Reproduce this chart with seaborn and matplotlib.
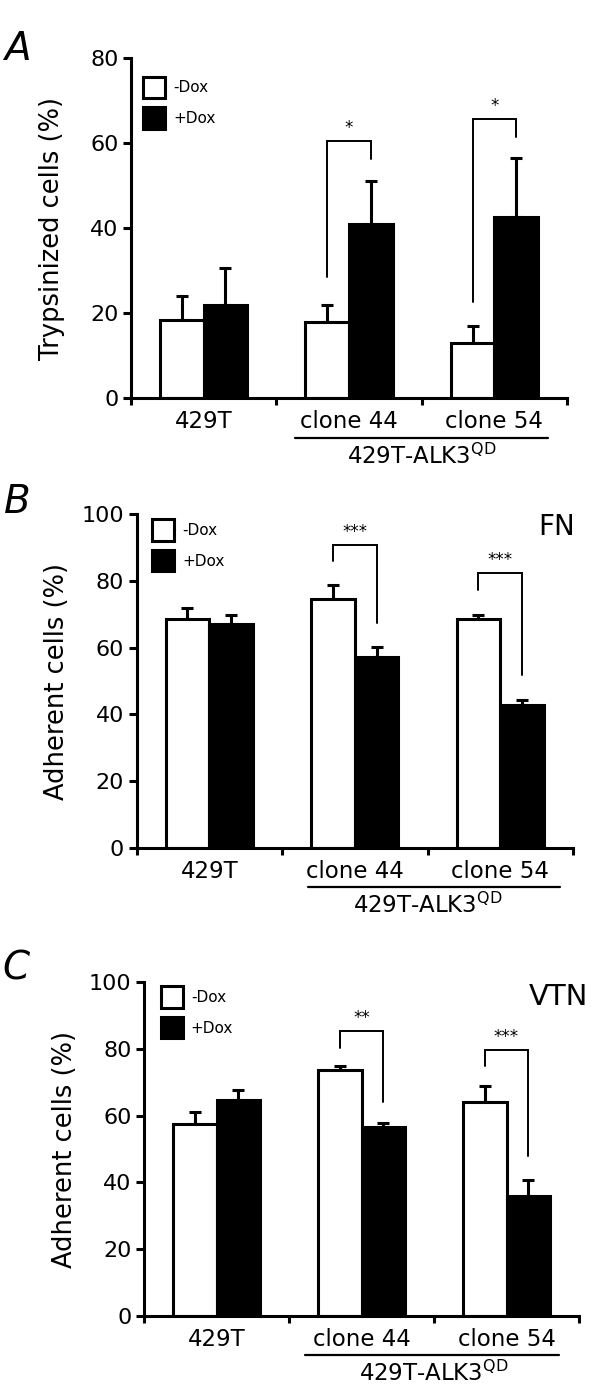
import numpy as np
import pandas as pd
import matplotlib
matplotlib.use("Agg")
import matplotlib.pyplot as plt
import matplotlib.transforms as mtrans
import seaborn as sns

# --- data ---
groups = ["429T", "clone 44", "clone 54"]
conditions = ["-Dox", "+Dox"]

# A: trypsinized cells
a_minus = [18.3, 17.9, 12.9]
a_plus = [22.0, 40.9, 42.6]
a_err_minus = [5.6, 3.9, 4.0]
a_err_plus = [8.6, 10.2, 13.9]

# B: adherent cells on FN
b_minus = [68.5, 74.7, 68.5]
b_plus = [67.0, 57.1, 42.8]
b_err_minus = [3.5, 3.9, 1.2]
b_err_plus = [2.7, 3.2, 1.5]

# C: adherent cells on VTN
c_minus = [57.5, 73.8, 64.0]
c_plus = [64.6, 56.6, 36.0]
c_err_minus = [3.5, 1.2, 4.8]
c_err_plus = [3.2, 1.1, 4.6]

# significance brackets: (group index, left end, top, right end, label)
a_sig = [(1, 28.5, 60.5, 56.3, "*"), (2, 22.7, 65.6, 61.4, "*")]
b_sig = [(1, 85.8, 90.8, 67.3, "***"), (2, 77.1, 82.4, 51.8, "***")]
c_sig = [(1, 80.1, 85.3, 64.2, "**"), (2, 74.9, 79.7, 48.0, "***")]

W, H = 600, 1388
LW = 2.2

sns.set_style("white")
plt.rcParams['font.family'] = ['DejaVu Sans']
plt.rcParams['text.color'] = 'black'
plt.rcParams['axes.labelcolor'] = 'black'
plt.rcParams['xtick.color'] = 'black'
plt.rcParams['ytick.color'] = 'black'

fig = plt.figure(figsize=(W / 100, H / 100), dpi=100)


def px_axes(left, right, top, bottom):
    return fig.add_axes([left / W, (H - bottom) / H, (right - left) / W, (bottom - top) / H])


def panel(ax, minus, plus, err_minus, err_plus, ymax, ylabel, sig, leg_xy, line_x):
    df = pd.DataFrame({
        "group": groups * 2,
        "cond": [conditions[0]] * 3 + [conditions[1]] * 3,
        "value": minus + plus,
    })
    sns.barplot(data=df, x="group", y="value", hue="cond", hue_order=conditions,
                palette=["white", "black"], edgecolor="black", linewidth=LW,
                width=0.6, errorbar=None, legend=False, ax=ax, zorder=2)

    # one-sided error bars on top of each bar
    for cont, errs in zip(ax.containers, [err_minus, err_plus]):
        xs = [p.get_x() + p.get_width() / 2 for p in cont.patches]
        hs = [p.get_height() for p in cont.patches]
        ax.errorbar(xs, hs, yerr=[np.zeros(len(errs)), errs], fmt="none",
                    ecolor="black", elinewidth=LW, capsize=4.3, capthick=LW, zorder=1)

    # brackets
    xc_minus = [p.get_x() + p.get_width() / 2 for p in ax.containers[0].patches]
    xc_plus = [p.get_x() + p.get_width() / 2 for p in ax.containers[1].patches]
    for gi, yl, yt, yr, lab in sig:
        x0, x1 = xc_minus[gi], xc_plus[gi]
        ax.plot([x0, x0, x1, x1], [yl, yt, yt, yr], color="black", lw=1.4,
                solid_joinstyle="miter", zorder=3)
        ax.text((x0 + x1) / 2, yt + ymax * 0.012, lab, ha="center", va="bottom", fontsize=12)

    ax.set_xlim(-0.5, 2.5)
    ax.set_ylim(0, ymax)
    ax.set_yticks(np.arange(0, ymax + 1, 20))
    ax.set_xticks([-0.5, 0.5, 1.5, 2.5])
    ax.set_xticklabels([])
    ax.set_xticks([0, 1, 2], minor=True)
    ax.set_xticklabels(groups, minor=True)
    ax.tick_params(axis="x", which="major", direction="out", length=5, width=LW, bottom=True)
    ax.tick_params(axis="x", which="minor", length=0, pad=9, labelsize=16.5)
    ax.tick_params(axis="y", direction="out", length=6, width=LW, left=True, labelsize=16, pad=3)
    sns.despine(ax=ax)
    for s in ["left", "bottom"]:
        ax.spines[s].set_linewidth(LW)
        ax.spines[s].set_color("black")
    ax.set_xlabel("")
    ax.set_ylabel(ylabel, fontsize=18.5)
    ax.yaxis.label.set_va("center")
    ax.yaxis.set_label_coords(-79 / 436, 0.5)

    ax.legend(handles=[ax.containers[0].patches[0], ax.containers[1].patches[0]],
              labels=conditions, loc="upper left", bbox_to_anchor=leg_xy,
              frameon=False, fontsize=11, handlelength=1.45, handleheight=1.8,
              handletextpad=0.5, labelspacing=0.6, borderpad=0, borderaxespad=0)

    trans = mtrans.blended_transform_factory(ax.transData, ax.transAxes)
    ax.plot(line_x, [-0.117, -0.117], color="black", lw=1.6, transform=trans, clip_on=False)
    ax.text(1.5, -0.172, r"429T-ALK3$^{\mathregular{QD}}$", transform=trans,
            ha="center", va="center", fontsize=16.5)


axA = px_axes(131, 567, 58, 398)
panel(axA, a_minus, a_plus, a_err_minus, a_err_plus, 80, "Trypsinized cells (%)",
      a_sig, (0.028, 0.945), [0.63, 2.37])

axB = px_axes(136.5, 573, 514, 848)
panel(axB, b_minus, b_plus, b_err_minus, b_err_plus, 100, "Adherent cells (%)",
      b_sig, (0.036, 0.985), [0.68, 2.41])

axC = px_axes(144, 579, 982, 1316)
panel(axC, c_minus, c_plus, c_err_minus, c_err_plus, 100, "Adherent cells (%)",
      c_sig, (0.039, 0.988), [0.61, 2.36])

# panel letters and substrate labels
fig.text(4 / W, 1 - 60 / H, "A", fontsize=28, style="italic", ha="left", va="baseline")
fig.text(4 / W, 1 - 513 / H, "B", fontsize=28, style="italic", ha="left", va="baseline")
fig.text(2 / W, 1 - 980 / H, "C", fontsize=28, style="italic", ha="left", va="baseline")
fig.text(575 / W, 1 - 535 / H, "FN", fontsize=20, ha="right", va="baseline")
fig.text(588 / W, 1 - 1005 / H, "VTN", fontsize=21, ha="right", va="baseline")

fig.savefig("out.png", dpi=100)
